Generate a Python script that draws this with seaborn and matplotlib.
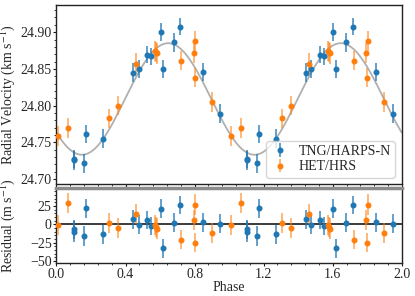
import numpy as np
import matplotlib
matplotlib.use("Agg")
import matplotlib.pyplot as plt
import seaborn as sns
from matplotlib.ticker import MultipleLocator, AutoMinorLocator, FormatStrFormatter

# ---------------- data ----------------
tng_phase = [0.103, 0.104, 0.159, 0.173, 0.271, 0.445, 0.476, 0.524, 0.547,
             0.603, 0.618, 0.678, 0.717, 0.850, 0.950]
tng_rv = [24.7270, 24.7255, 24.7213, 24.7610, 24.7550, 24.8450, 24.8495, 24.8690,
          24.8670, 24.9000, 24.8495, 24.8860, 24.9077, 24.8460, 24.7890]
tng_err = [0.012, 0.013, 0.0125, 0.0125, 0.0125, 0.0125, 0.0125, 0.0115, 0.0115,
           0.0125, 0.0125, 0.0125, 0.0115, 0.0125, 0.0125]
tng_res = [-7, -10, -16, 22, -13.5, 7, -0.5, 6, -2, 21, -33, 2.3, 26.4, 2.8, 1]
tng_res_err = [13, 14, 13.5, 13, 13, 13, 13, 12.5, 12.5, 13, 13, 13, 12.5, 13, 13]

het_phase = [0.011, 0.067, 0.304, 0.358, 0.460, 0.570, 0.577, 0.585, 0.724,
             0.794, 0.801, 0.803, 0.900]
het_rv = [24.7586, 24.7695, 24.7827, 24.8000, 24.8572, 24.8745, 24.8730, 24.8710,
          24.8610, 24.8713, 24.8380, 24.8877, 24.8045]
het_err = [0.013, 0.013, 0.013, 0.013, 0.014, 0.014, 0.014, 0.014, 0.013,
           0.0135, 0.013, 0.0135, 0.0135]
het_res = [-1, 29, 1.4, -4.6, 13.9, -1, -3.5, -6, -20.8, 6, -25, 26.8, -11.7]
het_res_err = [13.5, 13.5, 13.5, 13.5, 14, 14, 14, 14, 13.5, 14, 13.5, 14, 14]

# orbit model parameters (circular fit)
gamma = 24.809   # km/s
K = 0.076        # km/s
phase_max = 0.647

# ---------------- style ----------------
sns.set_theme(style="ticks")
plt.rcParams["font.family"] = ["Liberation Serif", "DejaVu Serif"]
plt.rcParams["mathtext.fontset"] = "stix"
plt.rcParams["font.size"] = 10

fig = plt.figure(figsize=(4.15, 2.96), dpi=100)
ax1 = fig.add_axes([0.1361, 0.3767, 0.832, 0.6064])
ax2 = fig.add_axes([0.1361, 0.1098, 0.832, 0.2534])

# model curve
grid = np.linspace(0, 2, 600)
model = gamma + K * np.cos(2 * np.pi * (grid - phase_max))
sns.lineplot(x=grid, y=model, color="#b0b0b0", lw=1.3, ax=ax1, zorder=1)

ax2.axhline(0, color="k", lw=1.2, zorder=1)

sets = [
    (tng_phase, tng_rv, tng_err, tng_res, tng_res_err, "#1f77b4", "TNG/HARPS-N", 0.75),
    (het_phase, het_rv, het_err, het_res, het_res_err, "#ff7f0e", "HET/HRS", 0.6),
]
for ph, rv, er, rs, rse, col, lab, a in sets:
    ph = np.asarray(ph)
    ph2 = np.concatenate([ph, ph + 1])
    rv2 = np.concatenate([rv, rv])
    er2 = np.concatenate([er, er])
    rs2 = np.concatenate([rs, rs])
    rse2 = np.concatenate([rse, rse])
    ax1.errorbar(ph2, rv2, yerr=er2, fmt="o", ms=3.3, color=col,
                 ecolor=matplotlib.colors.to_rgba(col, a), elinewidth=1.3,
                 capsize=0, label=lab, zorder=3)
    ax2.errorbar(ph2, rs2, yerr=rse2, fmt="o", ms=3.3, color=col,
                 ecolor=matplotlib.colors.to_rgba(col, a), elinewidth=1.3,
                 capsize=0, zorder=3)

# axes
for ax in (ax1, ax2):
    ax.set_xlim(0, 2)
    ax.xaxis.set_major_locator(MultipleLocator(0.4))
    ax.xaxis.set_minor_locator(AutoMinorLocator(5))
    ax.yaxis.set_minor_locator(AutoMinorLocator(5))
    ax.tick_params(which="major", direction="out", length=2.5, width=0.8,
                   labelsize=10, pad=1, color="k")
    ax.tick_params(which="minor", direction="out", length=1.5, width=0.6, color="k")
    for s in ax.spines.values():
        s.set_color("#222222")
        s.set_linewidth(1.0)

ax1.set_ylim(24.6925, 24.937)
ax1.yaxis.set_major_locator(MultipleLocator(0.05))
ax1.yaxis.set_major_formatter(FormatStrFormatter("%.2f"))
ax1.tick_params(labelbottom=False)
ax1.set_ylabel("Radial Velocity (km s$^{-1}$)", fontsize=10)
ax1.yaxis.set_label_coords(-0.113, 0.5)

ax2.set_ylim(-53.5, 48.7)
ax2.yaxis.set_major_locator(MultipleLocator(25))
ax2.xaxis.set_major_formatter(FormatStrFormatter("%.1f"))
ax2.spines["top"].set_color("#8c8c8c")
ax2.spines["top"].set_linewidth(2.5)
ax2.set_ylabel("Residual (m s$^{-1}$)", fontsize=10)
ax2.yaxis.set_label_coords(-0.113, 0.5)
ax2.set_xlabel("Phase", fontsize=10, labelpad=0)

ax1.legend(loc="lower right", fontsize=10, labelspacing=0.15, borderpad=0.3,
           handlelength=1.4, handletextpad=0.6, frameon=True)

fig.savefig("out.png", dpi=100)
